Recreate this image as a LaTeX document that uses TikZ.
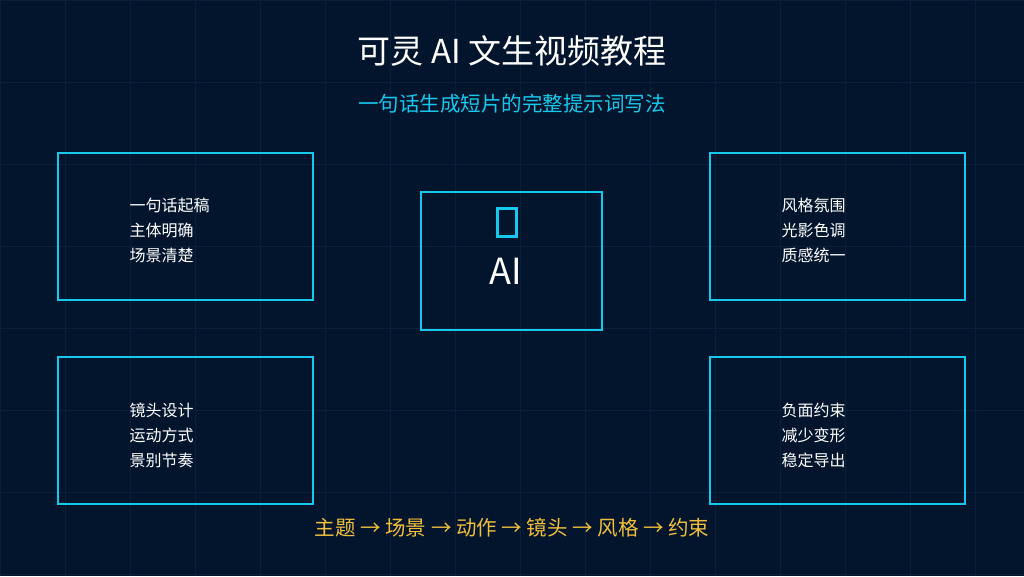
\documentclass[tikz,border=0pt]{standalone}
\usepackage{fontspec}
\setmainfont{Noto Sans CJK SC}
\definecolor{bg}{RGB}{3,21,45}
\definecolor{gridc}{RGB}{8,32,56}
\definecolor{cy}{RGB}{22,200,235}
\definecolor{gold}{RGB}{240,190,60}
\begin{document}
\begin{tikzpicture}[x=1pt,y=-1pt,
  card/.style={draw=cy,line width=2pt},
  txt/.style={text=white,font=\fontsize{16}{25}\selectfont,align=left,anchor=west}]
\fill[bg] (0,0) rectangle (1024,576);
\useasboundingbox (0,0) rectangle (1024,576);
\foreach \x in {0,65,...,1024} \draw[gridc,line width=0.8pt] (\x,0) -- (\x,576);
\foreach \y in {0,82,...,576} \draw[gridc,line width=0.8pt] (0,\y) -- (1024,\y);
\node[text=white,font=\fontsize{33}{36}\selectfont] (title) at (512,51) {可灵 AI 文生视频教程};
\node[text=cy,font=\fontsize{20.5}{24}\selectfont] (sub) at (512,104) {一句话生成短片的完整提示词写法};
\draw[card] (58,153) rectangle (313,300);
\draw[card] (710,153) rectangle (965,300);
\draw[card] (58,357) rectangle (313,504);
\draw[card] (710,357) rectangle (965,504);
\draw[card] (421,192) rectangle (602,330);
\draw[cy,line width=3pt] (497,208) rectangle (516,236);
\node[text=white,font=\fontsize{36}{38}\selectfont] (ai) at (506,271) {AI};
\node[txt] (t1) at (126,230) {一句话起稿\\主体明确\\场景清楚};
\node[txt] (t2) at (778,230) {风格氛围\\光影色调\\质感统一};
\node[txt] (t3) at (126,435) {镜头设计\\运动方式\\景别节奏};
\node[txt] (t4) at (778,435) {负面约束\\减少变形\\稳定导出};
\node[text=gold,font=\fontsize{20.5}{24}\selectfont] (flow) at (512,528) {主题\ → 场景\ → 动作\ → 镜头\ → 风格\ → 约束};
\end{tikzpicture}
\end{document}
